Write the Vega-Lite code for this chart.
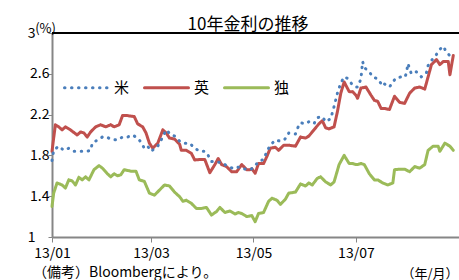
{
"$schema": "https://vega.github.io/schema/vega-lite/v6.json",
"width": 408, "height": 204,
"autosize": {"type": "none"},
"padding": {"left": 52, "top": 33, "right": 0, "bottom": 43},
"background": "white",
"config": {"font": "Noto Sans CJK JP", "view": {"stroke": null}},
"title": {"text": "10年金利の推移", "fontSize": 17, "fontWeight": "normal", "color": "#000", "anchor": "middle", "dx": -8, "offset": -12, "font": "Noto Sans CJK JP"},
"datasets": {
"rates": [
{"d":"2013-01-01","c":"英","v":1.84},{"d":"2013-01-03","c":"英","v":2.10},{"d":"2013-01-05","c":"英","v":2.08},{"d":"2013-01-07","c":"英","v":2.05},{"d":"2013-01-09","c":"英","v":2.08},{"d":"2013-01-12","c":"英","v":2.05},{"d":"2013-01-16","c":"英","v":2.00},{"d":"2013-01-18","c":"英","v":2.03},{"d":"2013-01-20","c":"英","v":2.02},{"d":"2013-01-22","c":"英","v":1.98},{"d":"2013-01-24","c":"英","v":2.03},{"d":"2013-01-27","c":"英","v":2.08},{"d":"2013-01-30","c":"英","v":2.10},{"d":"2013-02-02","c":"英","v":2.08},{"d":"2013-02-05","c":"英","v":2.10},{"d":"2013-02-07","c":"英","v":2.08},{"d":"2013-02-10","c":"英","v":2.10},{"d":"2013-02-12","c":"英","v":2.19},{"d":"2013-02-15","c":"英","v":2.19},{"d":"2013-02-19","c":"英","v":2.18},{"d":"2013-02-21","c":"英","v":2.11},{"d":"2013-02-24","c":"英","v":2.08},{"d":"2013-02-26","c":"英","v":2.02},{"d":"2013-02-28","c":"英","v":1.92},{"d":"2013-03-02","c":"英","v":1.87},{"d":"2013-03-05","c":"英","v":1.92},{"d":"2013-03-08","c":"英","v":2.05},{"d":"2013-03-10","c":"英","v":2.02},{"d":"2013-03-12","c":"英","v":1.97},{"d":"2013-03-15","c":"英","v":1.96},{"d":"2013-03-18","c":"英","v":1.91},{"d":"2013-03-19","c":"英","v":1.85},{"d":"2013-03-22","c":"英","v":1.85},{"d":"2013-03-25","c":"英","v":1.82},{"d":"2013-03-27","c":"英","v":1.755},{"d":"2013-03-30","c":"英","v":1.76},{"d":"2013-04-02","c":"英","v":1.76},{"d":"2013-04-05","c":"英","v":1.63},{"d":"2013-04-08","c":"英","v":1.71},{"d":"2013-04-10","c":"英","v":1.77},{"d":"2013-04-12","c":"英","v":1.71},{"d":"2013-04-15","c":"英","v":1.69},{"d":"2013-04-18","c":"英","v":1.64},{"d":"2013-04-21","c":"英","v":1.64},{"d":"2013-04-24","c":"英","v":1.71},{"d":"2013-04-27","c":"英","v":1.66},{"d":"2013-04-29","c":"英","v":1.66},{"d":"2013-04-30","c":"英","v":1.67},{"d":"2013-05-02","c":"英","v":1.625},{"d":"2013-05-04","c":"英","v":1.72},{"d":"2013-05-07","c":"英","v":1.72},{"d":"2013-05-09","c":"英","v":1.79},{"d":"2013-05-11","c":"英","v":1.87},{"d":"2013-05-14","c":"英","v":1.88},{"d":"2013-05-16","c":"英","v":1.85},{"d":"2013-05-19","c":"英","v":1.90},{"d":"2013-05-22","c":"英","v":1.90},{"d":"2013-05-26","c":"英","v":1.89},{"d":"2013-05-29","c":"英","v":1.98},{"d":"2013-06-01","c":"英","v":1.97},{"d":"2013-06-03","c":"英","v":1.99},{"d":"2013-06-06","c":"英","v":2.05},{"d":"2013-06-09","c":"英","v":2.11},{"d":"2013-06-11","c":"英","v":2.14},{"d":"2013-06-13","c":"英","v":2.07},{"d":"2013-06-15","c":"英","v":2.06},{"d":"2013-06-18","c":"英","v":2.08},{"d":"2013-06-20","c":"英","v":2.23},{"d":"2013-06-22","c":"英","v":2.41},{"d":"2013-06-24","c":"英","v":2.52},{"d":"2013-06-27","c":"英","v":2.425},{"d":"2013-06-29","c":"英","v":2.425},{"d":"2013-07-01","c":"英","v":2.39},{"d":"2013-07-02","c":"英","v":2.36},{"d":"2013-07-04","c":"英","v":2.46},{"d":"2013-07-07","c":"英","v":2.47},{"d":"2013-07-10","c":"英","v":2.39},{"d":"2013-07-12","c":"英","v":2.34},{"d":"2013-07-14","c":"英","v":2.33},{"d":"2013-07-16","c":"英","v":2.26},{"d":"2013-07-18","c":"英","v":2.26},{"d":"2013-07-21","c":"英","v":2.25},{"d":"2013-07-24","c":"英","v":2.38},{"d":"2013-07-27","c":"英","v":2.32},{"d":"2013-07-30","c":"英","v":2.31},{"d":"2013-08-02","c":"英","v":2.41},{"d":"2013-08-05","c":"英","v":2.46},{"d":"2013-08-08","c":"英","v":2.47},{"d":"2013-08-11","c":"英","v":2.45},{"d":"2013-08-13","c":"英","v":2.57},{"d":"2013-08-15","c":"英","v":2.69},{"d":"2013-08-18","c":"英","v":2.74},{"d":"2013-08-20","c":"英","v":2.69},{"d":"2013-08-22","c":"英","v":2.72},{"d":"2013-08-25","c":"英","v":2.72},{"d":"2013-08-26","c":"英","v":2.59},{"d":"2013-08-28","c":"英","v":2.78},
{"d":"2013-01-01","c":"独","v":1.30},{"d":"2013-01-02","c":"独","v":1.43},{"d":"2013-01-04","c":"独","v":1.53},{"d":"2013-01-07","c":"独","v":1.51},{"d":"2013-01-09","c":"独","v":1.48},{"d":"2013-01-11","c":"独","v":1.56},{"d":"2013-01-13","c":"独","v":1.55},{"d":"2013-01-15","c":"独","v":1.51},{"d":"2013-01-17","c":"独","v":1.585},{"d":"2013-01-19","c":"独","v":1.56},{"d":"2013-01-21","c":"独","v":1.59},{"d":"2013-01-23","c":"独","v":1.56},{"d":"2013-01-26","c":"独","v":1.66},{"d":"2013-01-29","c":"独","v":1.70},{"d":"2013-01-31","c":"独","v":1.675},{"d":"2013-02-03","c":"独","v":1.62},{"d":"2013-02-05","c":"独","v":1.59},{"d":"2013-02-07","c":"独","v":1.62},{"d":"2013-02-09","c":"独","v":1.60},{"d":"2013-02-11","c":"独","v":1.61},{"d":"2013-02-13","c":"独","v":1.66},{"d":"2013-02-17","c":"独","v":1.645},{"d":"2013-02-20","c":"独","v":1.645},{"d":"2013-02-22","c":"独","v":1.56},{"d":"2013-02-25","c":"独","v":1.545},{"d":"2013-02-28","c":"独","v":1.43},{"d":"2013-03-03","c":"独","v":1.41},{"d":"2013-03-06","c":"独","v":1.46},{"d":"2013-03-09","c":"独","v":1.51},{"d":"2013-03-12","c":"独","v":1.50},{"d":"2013-03-15","c":"独","v":1.44},{"d":"2013-03-18","c":"独","v":1.395},{"d":"2013-03-20","c":"独","v":1.35},{"d":"2013-03-22","c":"独","v":1.36},{"d":"2013-03-25","c":"独","v":1.33},{"d":"2013-03-28","c":"独","v":1.28},{"d":"2013-03-31","c":"独","v":1.28},{"d":"2013-04-03","c":"独","v":1.29},{"d":"2013-04-06","c":"独","v":1.215},{"d":"2013-04-09","c":"独","v":1.25},{"d":"2013-04-11","c":"独","v":1.29},{"d":"2013-04-14","c":"独","v":1.24},{"d":"2013-04-17","c":"独","v":1.255},{"d":"2013-04-20","c":"独","v":1.225},{"d":"2013-04-22","c":"独","v":1.24},{"d":"2013-04-24","c":"独","v":1.23},{"d":"2013-04-27","c":"独","v":1.20},{"d":"2013-04-30","c":"独","v":1.21},{"d":"2013-05-02","c":"独","v":1.15},{"d":"2013-05-04","c":"独","v":1.23},{"d":"2013-05-07","c":"独","v":1.24},{"d":"2013-05-10","c":"独","v":1.35},{"d":"2013-05-12","c":"独","v":1.38},{"d":"2013-05-15","c":"独","v":1.36},{"d":"2013-05-17","c":"独","v":1.32},{"d":"2013-05-20","c":"独","v":1.37},{"d":"2013-05-22","c":"独","v":1.43},{"d":"2013-05-26","c":"独","v":1.44},{"d":"2013-05-29","c":"独","v":1.52},{"d":"2013-06-01","c":"独","v":1.50},{"d":"2013-06-03","c":"独","v":1.53},{"d":"2013-06-05","c":"独","v":1.51},{"d":"2013-06-08","c":"独","v":1.575},{"d":"2013-06-10","c":"独","v":1.59},{"d":"2013-06-13","c":"独","v":1.54},{"d":"2013-06-16","c":"独","v":1.51},{"d":"2013-06-18","c":"独","v":1.54},{"d":"2013-06-21","c":"独","v":1.71},{"d":"2013-06-24","c":"独","v":1.80},{"d":"2013-06-27","c":"独","v":1.72},{"d":"2013-06-29","c":"独","v":1.72},{"d":"2013-07-01","c":"独","v":1.71},{"d":"2013-07-02","c":"独","v":1.71},{"d":"2013-07-04","c":"独","v":1.72},{"d":"2013-07-06","c":"独","v":1.71},{"d":"2013-07-09","c":"独","v":1.62},{"d":"2013-07-12","c":"独","v":1.56},{"d":"2013-07-14","c":"独","v":1.56},{"d":"2013-07-17","c":"独","v":1.53},{"d":"2013-07-20","c":"独","v":1.51},{"d":"2013-07-23","c":"独","v":1.53},{"d":"2013-07-24","c":"独","v":1.66},{"d":"2013-07-27","c":"独","v":1.665},{"d":"2013-07-30","c":"独","v":1.665},{"d":"2013-08-02","c":"独","v":1.64},{"d":"2013-08-05","c":"独","v":1.69},{"d":"2013-08-08","c":"独","v":1.675},{"d":"2013-08-11","c":"独","v":1.71},{"d":"2013-08-13","c":"独","v":1.85},{"d":"2013-08-16","c":"独","v":1.89},{"d":"2013-08-19","c":"独","v":1.89},{"d":"2013-08-20","c":"独","v":1.84},{"d":"2013-08-23","c":"独","v":1.92},{"d":"2013-08-26","c":"独","v":1.89},{"d":"2013-08-28","c":"独","v":1.85},
{"d":"2013-01-01","c":"米","v":1.75},{"d":"2013-01-02","c":"米","v":1.85},{"d":"2013-01-05","c":"米","v":1.89},{"d":"2013-01-08","c":"米","v":1.85},{"d":"2013-01-11","c":"米","v":1.87},{"d":"2013-01-14","c":"米","v":1.84},{"d":"2013-01-17","c":"米","v":1.84},{"d":"2013-01-20","c":"米","v":1.84},{"d":"2013-01-22","c":"米","v":1.84},{"d":"2013-01-24","c":"米","v":1.85},{"d":"2013-01-25","c":"米","v":1.92},{"d":"2013-01-28","c":"米","v":1.95},{"d":"2013-01-31","c":"米","v":1.98},{"d":"2013-02-02","c":"米","v":1.985},{"d":"2013-02-05","c":"米","v":1.96},{"d":"2013-02-09","c":"米","v":1.95},{"d":"2013-02-12","c":"米","v":1.98},{"d":"2013-02-15","c":"米","v":1.98},{"d":"2013-02-18","c":"米","v":2.00},{"d":"2013-02-21","c":"米","v":1.97},{"d":"2013-02-23","c":"米","v":1.93},{"d":"2013-02-25","c":"米","v":1.87},{"d":"2013-02-27","c":"米","v":1.89},{"d":"2013-03-01","c":"米","v":1.84},{"d":"2013-03-05","c":"米","v":1.89},{"d":"2013-03-07","c":"米","v":1.95},{"d":"2013-03-10","c":"米","v":2.05},{"d":"2013-03-13","c":"米","v":2.00},{"d":"2013-03-15","c":"米","v":1.99},{"d":"2013-03-18","c":"米","v":1.94},{"d":"2013-03-20","c":"米","v":1.92},{"d":"2013-03-24","c":"米","v":1.92},{"d":"2013-03-27","c":"米","v":1.87},{"d":"2013-03-30","c":"米","v":1.84},{"d":"2013-04-02","c":"米","v":1.84},{"d":"2013-04-04","c":"米","v":1.80},{"d":"2013-04-06","c":"米","v":1.74},{"d":"2013-04-09","c":"米","v":1.735},{"d":"2013-04-12","c":"米","v":1.73},{"d":"2013-04-15","c":"米","v":1.70},{"d":"2013-04-19","c":"米","v":1.67},{"d":"2013-04-22","c":"米","v":1.685},{"d":"2013-04-24","c":"米","v":1.67},{"d":"2013-04-29","c":"米","v":1.66},{"d":"2013-05-01","c":"米","v":1.68},{"d":"2013-05-04","c":"米","v":1.74},{"d":"2013-05-07","c":"米","v":1.76},{"d":"2013-05-09","c":"米","v":1.84},{"d":"2013-05-11","c":"米","v":1.90},{"d":"2013-05-14","c":"米","v":1.95},{"d":"2013-05-17","c":"米","v":1.94},{"d":"2013-05-19","c":"米","v":1.95},{"d":"2013-05-21","c":"米","v":1.98},{"d":"2013-05-22","c":"米","v":2.02},{"d":"2013-05-26","c":"米","v":2.01},{"d":"2013-05-27","c":"米","v":2.06},{"d":"2013-05-29","c":"米","v":2.12},{"d":"2013-06-01","c":"米","v":2.11},{"d":"2013-06-03","c":"米","v":2.13},{"d":"2013-06-06","c":"米","v":2.11},{"d":"2013-06-08","c":"米","v":2.17},{"d":"2013-06-11","c":"米","v":2.18},{"d":"2013-06-13","c":"米","v":2.13},{"d":"2013-06-16","c":"米","v":2.16},{"d":"2013-06-18","c":"米","v":2.28},{"d":"2013-06-20","c":"米","v":2.41},{"d":"2013-06-22","c":"米","v":2.51},{"d":"2013-06-24","c":"米","v":2.57},{"d":"2013-06-26","c":"米","v":2.555},{"d":"2013-06-29","c":"米","v":2.49},{"d":"2013-07-01","c":"米","v":2.47},{"d":"2013-07-02","c":"米","v":2.47},{"d":"2013-07-04","c":"米","v":2.55},{"d":"2013-07-05","c":"米","v":2.72},{"d":"2013-07-06","c":"米","v":2.66},{"d":"2013-07-09","c":"米","v":2.62},{"d":"2013-07-11","c":"米","v":2.57},{"d":"2013-07-14","c":"米","v":2.55},{"d":"2013-07-17","c":"米","v":2.48},{"d":"2013-07-18","c":"米","v":2.50},{"d":"2013-07-21","c":"米","v":2.47},{"d":"2013-07-23","c":"米","v":2.52},{"d":"2013-07-25","c":"米","v":2.56},{"d":"2013-07-28","c":"米","v":2.57},{"d":"2013-07-30","c":"米","v":2.565},{"d":"2013-07-31","c":"米","v":2.60},{"d":"2013-08-01","c":"米","v":2.70},{"d":"2013-08-03","c":"米","v":2.60},{"d":"2013-08-06","c":"米","v":2.62},{"d":"2013-08-09","c":"米","v":2.57},{"d":"2013-08-12","c":"米","v":2.61},{"d":"2013-08-13","c":"米","v":2.68},{"d":"2013-08-15","c":"米","v":2.73},{"d":"2013-08-18","c":"米","v":2.79},{"d":"2013-08-20","c":"米","v":2.84},{"d":"2013-08-22","c":"米","v":2.87},{"d":"2013-08-24","c":"米","v":2.81},{"d":"2013-08-27","c":"米","v":2.76}
]
},
"layer": [
{
"data": {"name": "rates"},
"encoding": {
"x": {"field": "d", "type": "temporal",
"scale": {"type": "utc", "domain": [{"year": 2013, "month": 1, "date": 1, "utc": true}, {"year": 2013, "month": 9, "date": 1, "utc": true}]},
"axis": {"values": [{"year": 2013, "month": 1, "date": 1, "utc": true}, {"year": 2013, "month": 3, "date": 1, "utc": true}, {"year": 2013, "month": 5, "date": 1, "utc": true}, {"year": 2013, "month": 7, "date": 1, "utc": true}],
"format": "%y/%m", "labelFontSize": 14, "labelColor": "#000", "labelFlush": false, "tickSize": 5, "tickColor": "#868686", "domainColor": "#868686", "domainWidth": 2, "labelPadding": 4, "grid": false,
"title": "（年/月）", "titleFontSize": 13, "titleFontWeight": "normal", "titleColor": "#000", "titleAlign": "right", "titleAnchor": "end", "titleX": 406, "titleY": 40, "titleBaseline": "alphabetic"}},
"y": {"field": "v", "type": "quantitative",
"scale": {"domain": [1, 3], "nice": false, "zero": false},
"axis": {"values": [1, 1.4, 1.8, 2.2, 2.6, 3], "format": ".1~f", "labelFontSize": 14, "labelColor": "#000", "labelFlush": false, "tickSize": 4, "tickColor": "#868686", "domainColor": "#868686", "domainWidth": 2, "grid": false,
"labelPadding": {"condition": {"test": "datum.value === 1 || datum.value === 3", "value": 13}, "value": -1},
"title": "(%)", "titleAngle": 0, "titleX": -7, "titleY": -5, "titleAlign": "center", "titleBaseline": "middle", "titleFontSize": 13, "titleFontWeight": "normal", "titleColor": "#000"}},
"color": {"field": "c", "type": "nominal",
"scale": {"domain": ["米", "英", "独"], "range": ["#4a7ebb", "#c0504d", "#9bbb59"]},
"legend": {"orient": "none", "legendX": 11, "legendY": 31, "direction": "horizontal", "columns": 3, "title": null, "symbolType": "stroke", "symbolSize": 1936, "symbolStrokeWidth": 3, "labelFontSize": 15, "labelColor": "#000", "labelOffset": 4, "columnPadding": 8,
"encode": {"symbols": {"update": {"strokeCap": {"value": "round"}}}}}},
"strokeDash": {"field": "c", "type": "nominal",
"scale": {"domain": ["米", "英", "独"], "range": [[0.5, 6.5], [1, 0], [1, 0]]}}
},
"layer": [
{"transform": [{"filter": "datum.c !== '米'"}], "mark": {"type": "line", "strokeWidth": 3, "strokeCap": "round", "strokeJoin": "round"}},
{"transform": [{"filter": "datum.c === '米'"}], "mark": {"type": "line", "strokeWidth": 3, "strokeCap": "round", "strokeJoin": "round"}}
]
},
{
"data": {"values": [{}]},
"mark": {"type": "rule", "color": "#000", "strokeWidth": 2},
"encoding": {"y": {"datum": 3, "type": "quantitative"}}
},
{
"data": {"values": [{"note": "（備考）Bloombergにより。"}]},
"mark": {"type": "text", "align": "left", "baseline": "alphabetic", "dx": -19, "dy": 40, "fontSize": 14, "color": "#000"},
"encoding": {
"text": {"field": "note"},
"x": {"datum": {"year": 2013, "month": 1, "date": 1, "utc": true}, "type": "temporal"},
"y": {"datum": 1, "type": "quantitative"}
}
}
]
}
